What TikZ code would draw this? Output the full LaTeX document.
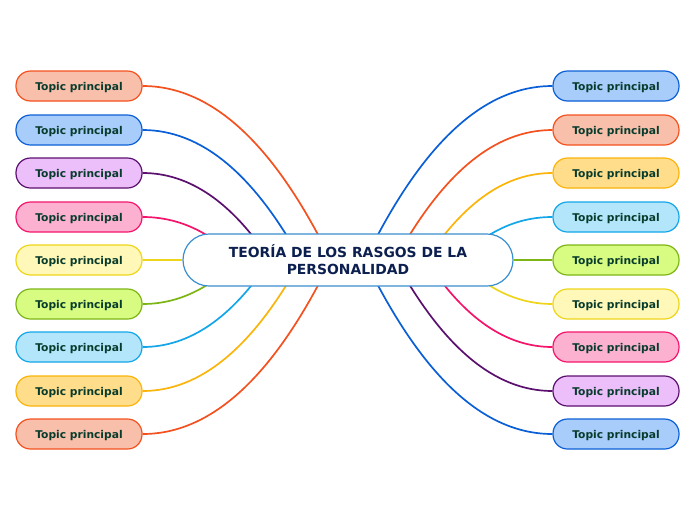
\documentclass[tikz,border=0pt]{standalone}
\usepackage{fontspec}
\setmainfont{DejaVu Sans}
\usetikzlibrary{calc,backgrounds}
\definecolor{orL}{HTML}{F4511E}\definecolor{orF}{HTML}{F8BFAB}
\definecolor{blL}{HTML}{0B5FD6}\definecolor{blF}{HTML}{A9CDFB}
\definecolor{puL}{HTML}{5B0F6E}\definecolor{puF}{HTML}{ECBEFA}
\definecolor{piL}{HTML}{F5146C}\definecolor{piF}{HTML}{FDB1D1}
\definecolor{yeL}{HTML}{EFD51A}\definecolor{yeF}{HTML}{FFF8B9}
\definecolor{grL}{HTML}{7DB517}\definecolor{grF}{HTML}{D7FC81}
\definecolor{cyL}{HTML}{12A6E8}\definecolor{cyF}{HTML}{B3E6FB}
\definecolor{goL}{HTML}{FBB40A}\definecolor{goF}{HTML}{FFDD8B}
\definecolor{txT}{HTML}{073B2C}
\definecolor{txC}{HTML}{0C1F4F}
\definecolor{cenL}{HTML}{3A8FD0}
\tikzset{
  topic/.style 2 args={draw=#1, fill=#2, line width=1.2pt, rounded corners=14.5pt,
    minimum width=126pt, minimum height=30pt, inner sep=0pt, text=txT, text depth=0pt,
    font=\bfseries\fontsize{10.7}{12}\selectfont},
  central/.style={draw=cenL, fill=white, line width=1.2pt, rounded corners=26pt,
    minimum width=330pt, minimum height=52pt, inner sep=0pt, text=txC, align=center,
    font=\bfseries\fontsize{13.9}{17}\selectfont},
  conn/.style={draw=#1, line width=1.7pt}
}
\begin{document}
\begin{tikzpicture}[x=1pt,y=-1pt]
\useasboundingbox (0,0) rectangle (696,520);
\node[central] (C) at (348,260) {TEORÍA DE LOS RASGOS DE LA\\PERSONALIDAD};
% left
\node[topic={orL}{orF}] (L1) at (79,86) {Topic principal};
\node[topic={blL}{blF}] (L2) at (79,130) {Topic principal};
\node[topic={puL}{puF}] (L3) at (79,173) {Topic principal};
\node[topic={piL}{piF}] (L4) at (79,217) {Topic principal};
\node[topic={yeL}{yeF}] (L5) at (79,260) {Topic principal};
\node[topic={grL}{grF}] (L6) at (79,304) {Topic principal};
\node[topic={cyL}{cyF}] (L7) at (79,347) {Topic principal};
\node[topic={goL}{goF}] (L8) at (79,391) {Topic principal};
\node[topic={orL}{orF}] (L9) at (79,434) {Topic principal};
% right
\node[topic={blL}{blF}] (R1) at (616,86) {Topic principal};
\node[topic={orL}{orF}] (R2) at (616,130) {Topic principal};
\node[topic={goL}{goF}] (R3) at (616,173) {Topic principal};
\node[topic={cyL}{cyF}] (R4) at (616,217) {Topic principal};
\node[topic={grL}{grF}] (R5) at (616,260) {Topic principal};
\node[topic={yeL}{yeF}] (R6) at (616,304) {Topic principal};
\node[topic={piL}{piF}] (R7) at (616,347) {Topic principal};
\node[topic={puL}{puF}] (R8) at (616,391) {Topic principal};
\node[topic={blL}{blF}] (R9) at (616,434) {Topic principal};
% connector end points (hidden behind the central node)
\coordinate (eA) at ($(C.center)+(-17,0)$);
\coordinate (eB) at ($(C.center)+(-47,0)$);
\coordinate (eC) at ($(C.center)+(-78,0)$);
\coordinate (eD) at ($(C.center)+(-110,0)$);
\coordinate (fA) at ($(C.center)+(17,0)$);
\coordinate (fB) at ($(C.center)+(47,0)$);
\coordinate (fC) at ($(C.center)+(78,0)$);
\coordinate (fD) at ($(C.center)+(110,0)$);
\begin{scope}[on background layer]
\draw[conn=orL] (L1.east) .. controls +(69.3,0) and +(-56.7,-116) .. (eA);
\draw[conn=blL] (L2.east) .. controls +(58.3,0) and +(-47.7,-86.7) .. (eB);
\draw[conn=puL] (L3.east) .. controls +(46.9,0) and +(-38.4,-58) .. (eC);
\draw[conn=piL] (L4.east) .. controls +(35.2,0) and +(-28.8,-28.7) .. (eD);
\draw[conn=yeL] (L5.east) -- (C.west);
\draw[conn=grL] (L6.east) .. controls +(35.2,0) and +(-28.8,28.7) .. (eD);
\draw[conn=cyL] (L7.east) .. controls +(46.9,0) and +(-38.4,58) .. (eC);
\draw[conn=goL] (L8.east) .. controls +(58.3,0) and +(-47.7,86.7) .. (eB);
\draw[conn=orL] (L9.east) .. controls +(69.3,0) and +(-56.7,116) .. (eA);
\draw[conn=blL] (R1.west) .. controls +(-69.3,0) and +(56.7,-116) .. (fA);
\draw[conn=orL] (R2.west) .. controls +(-58.3,0) and +(47.7,-86.7) .. (fB);
\draw[conn=goL] (R3.west) .. controls +(-46.9,0) and +(38.4,-58) .. (fC);
\draw[conn=cyL] (R4.west) .. controls +(-35.2,0) and +(28.8,-28.7) .. (fD);
\draw[conn=grL] (R5.west) -- (C.east);
\draw[conn=yeL] (R6.west) .. controls +(-35.2,0) and +(28.8,28.7) .. (fD);
\draw[conn=piL] (R7.west) .. controls +(-46.9,0) and +(38.4,58) .. (fC);
\draw[conn=puL] (R8.west) .. controls +(-58.3,0) and +(47.7,86.7) .. (fB);
\draw[conn=blL] (R9.west) .. controls +(-69.3,0) and +(56.7,116) .. (fA);
\end{scope}
\end{tikzpicture}
\end{document}
